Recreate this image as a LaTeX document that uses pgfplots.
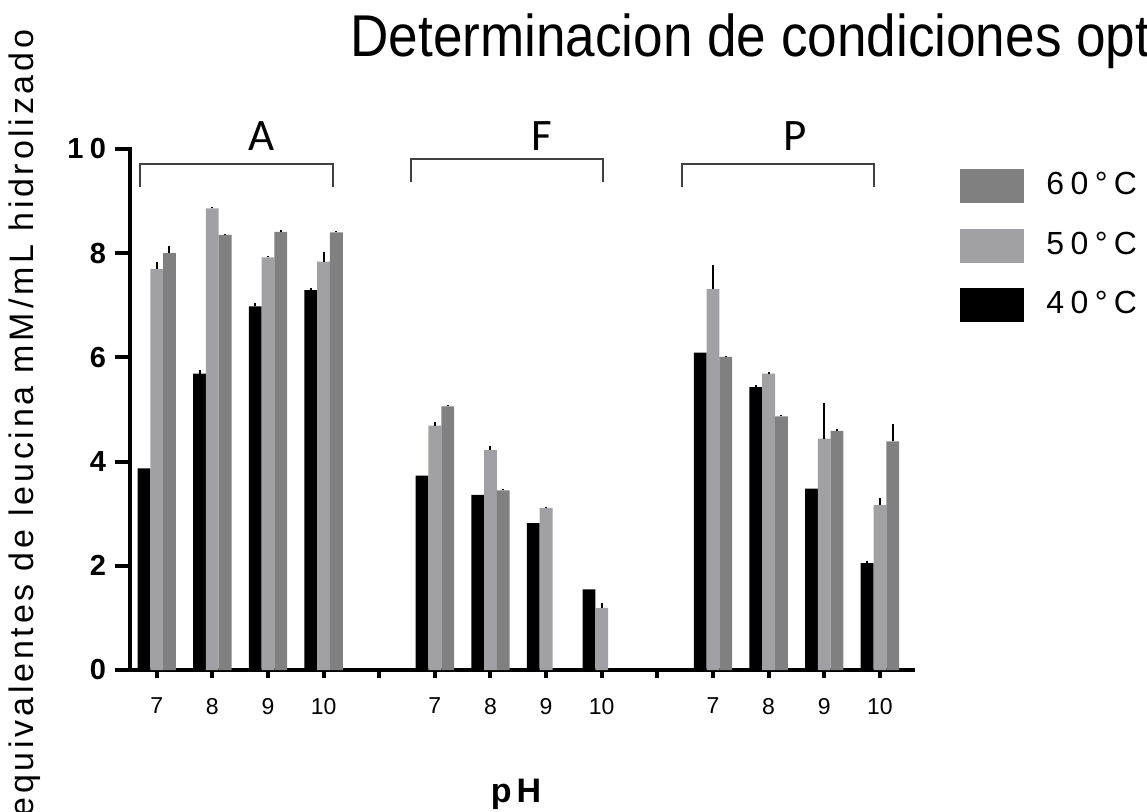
\documentclass[border=0pt]{standalone}
\usepackage{pgfplots}
\pgfplotsset{compat=1.18}
\usepackage{pgfplotstable}
\usepackage{fontspec}
\setmainfont{Liberation Sans}
\newfontfamily\grpfont{Carlito}

\definecolor{c40}{HTML}{000000}
\definecolor{c50}{HTML}{A1A0A5}
\definecolor{c60}{HTML}{808080}

% x: 0-3 = A (pH 7-10), 5-8 = F, 10-13 = P ; e = SEM (upper bar only)
\pgfplotstableread{
x  y     e
0  3.87  0.00
1  5.69  0.06
2  6.98  0.07
3  7.29  0.04
5  3.73  0.00
6  3.36  0.00
7  2.82  0.00
8  1.55  0.00
10 6.09  0.00
11 5.43  0.04
12 3.48  0.00
13 2.05  0.05
}\tforty

\pgfplotstableread{
x  y     e
0  7.70  0.13
1  8.86  0.02
2  7.92  0.02
3  7.84  0.19
5  4.69  0.07
6  4.22  0.07
7  3.11  0.02
8  1.19  0.09
10 7.31  0.47
11 5.69  0.03
12 4.44  0.69
13 3.17  0.14
}\tfifty

\pgfplotstableread{
x  y     e
0  8.00  0.13
1  8.35  0.02
2  8.41  0.04
3  8.40  0.03
5  5.06  0.02
6  3.45  0.02
10 6.01  0.02
11 4.87  0.02
12 4.59  0.04
13 4.39  0.34
}\tsixty

\pgfplotsset{
  tempbar/.style={ybar, bar width=0.23, bar shift=0, draw=none,
    error bars/.cd, y dir=plus, y explicit,
    error bar style={line width=1pt, black}, error mark=none, /pgfplots/.cd},
}

\begin{document}
\begin{tikzpicture}
\path[use as bounding box] (-65pt,-70.5pt) rectangle (508.5pt,335pt);
\begin{axis}[
  at={(0pt,0pt)}, anchor=south west,
  scale only axis, width=391.5pt, height=260.5pt,
  xmin=-0.48, xmax=13.595, ymin=0, ymax=10,
  clip=false,
  axis x line=bottom, axis y line=left,
  x axis line style={-}, y axis line style={-},
  axis line style={line width=2pt, line cap=rect},
  tick align=outside,
  tick style={line width=2pt, black},
  major tick length=7.5pt,
  xtick style={/pgfplots/major tick length=4pt},
  xtick={0,...,13},
  xticklabels={7,8,9,10,,7,8,9,10,,7,8,9,10},
  xticklabel style={font=\fontsize{11.5}{13}\selectfont},
  xticklabel shift=3pt,
  ytick={0,2,4,6,8,10},
  yticklabels={0,2,4,6,8,10},
  yticklabel style={font=\bfseries\fontsize{14.5}{17}\selectfont\addfontfeatures{LetterSpace=22}},
  yticklabel shift=1pt,
  legend style={at={(1.060,0.9616)}, anchor=north west, draw=none, fill=none,
    inner sep=0pt, row sep=12.75pt, column sep=11pt,
    font=\fontsize{16}{19}\selectfont\addfontfeatures{LetterSpace=20},
    nodes={inner sep=0pt}},
  legend cell align=left,
  reverse legend,
  legend image code/.code={\fill[#1] (0pt,-9.1pt) rectangle (32pt,7.9pt);},
]
\addplot[fill=c40, tempbar] table[x expr=\thisrow{x}-0.23, y=y, y error=e] {\tforty};
\addplot[fill=c50, tempbar] table[x=x, y=y, y error=e] {\tfifty};
\addplot[fill=c60, tempbar] table[x expr=\thisrow{x}+0.23, y=y, y error=e] {\tsixty};
\legend{40°C, 50°C, 60°C}

% group brackets
\draw[line width=1pt, black!75] (axis cs:-0.30,9.27) -- (axis cs:-0.30,9.712) -- (axis cs:3.164,9.712) -- (axis cs:3.164,9.27);
\draw[line width=1pt, black!75] (axis cs:4.571,9.37) -- (axis cs:4.571,9.80) -- (axis cs:8.028,9.80) -- (axis cs:8.028,9.37);
\draw[line width=1pt, black!75] (axis cs:9.437,9.27) -- (axis cs:9.437,9.712) -- (axis cs:12.894,9.712) -- (axis cs:12.894,9.27);
\node[anchor=base, inner sep=0pt, font=\grpfont\fontsize{22.5}{26}\selectfont] at (axis cs:1.884,9.967) {A};
\node[anchor=base, inner sep=0pt, font=\grpfont\fontsize{22.5}{26}\selectfont] at (axis cs:6.917,9.967) {F};
\node[anchor=base, inner sep=0pt, font=\grpfont\fontsize{22.5}{26}\selectfont] at (axis cs:11.47,9.967) {P};
\end{axis}

\node[anchor=base west, inner sep=0pt, font=\fontsize{29.5}{34}\selectfont] at (110pt,307pt)
  {\scalebox{0.9}[1]{Determinacion de condiciones optimas}};
\node[rotate=90, anchor=base, inner sep=0pt,
  font=\fontsize{17}{20}\selectfont\addfontfeatures{LetterSpace=11}] at (-48pt,123.5pt)
  {equivalentes de leucina mM/mL hidrolizado};
\node[anchor=base, inner sep=0pt,
  font=\bfseries\fontsize{17}{20}\selectfont\addfontfeatures{LetterSpace=15}] at (193pt,-66pt) {pH};
\end{tikzpicture}
\end{document}
